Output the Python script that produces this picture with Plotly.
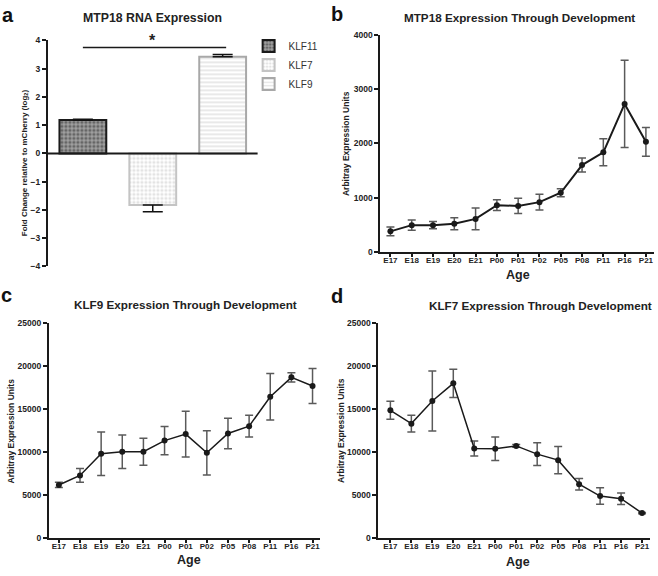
import plotly.graph_objects as go

W, H = 658, 576
def PX(x): return x / W
def PY(y): return 1 - y / H

FONT = "Liberation Sans, Arial, sans-serif"

# ---------- Panel a data ----------
bar_names = ["KLF11", "KLF7", "KLF9"]
bar_values = [1.18, -1.83, 3.42]
bar_err_plus = [0.03, 0.0, 0.08]
bar_err_minus = [0.0, 0.24, 0.0]
bar_ticks = [-4, -3, -2, -1, 0, 1, 2, 3, 4]

# ---------- Development panels data ----------
ages = ["E17", "E18", "E19", "E20", "E21", "P00", "P01", "P02", "P05", "P08", "P11", "P16", "P21"]

mtp18_vals = [375, 490, 490, 515, 605, 858, 845, 915, 1088, 1600, 1835, 2730, 2030]
mtp18_err = [80, 95, 65, 110, 200, 100, 140, 145, 75, 130, 250, 805, 265]

klf9_vals = [6150, 7250, 9780, 10000, 10010, 11300, 12060, 9880, 12130, 12980, 16400, 18650, 17650]
klf9_err = [300, 800, 2530, 1950, 1560, 1640, 2660, 2570, 1770, 1260, 2700, 530, 2030]

klf7_vals = [14850, 13300, 15950, 18000, 10400, 10380, 10700, 9740, 9040, 6230, 4850, 4540, 2860]
klf7_err = [1050, 975, 3500, 1660, 880, 1370, 170, 1330, 1600, 670, 970, 670, 80]

fig = go.Figure()

# ---------- Panel a bars ----------
bar_styles = [
    dict(color="#8a8a8a", line=dict(color="#1a1a1a", width=2),
         pattern=dict(shape=".", fgcolor="#2a2a2a", bgcolor="#a0a0a0", size=4, solidity=0.5)),
    dict(color="#ffffff", line=dict(color="#c4c4c4", width=2),
         pattern=dict(shape=".", fgcolor="#c8c8c8", bgcolor="#ffffff", size=4, solidity=0.5)),
    dict(color="#ffffff", line=dict(color="#a8a8a8", width=2),
         pattern=dict(shape="-", fgcolor="#b4b4b4", bgcolor="#ffffff", size=4, solidity=0.3)),
]
for i, name in enumerate(bar_names):
    fig.add_trace(go.Bar(
        x=[i], y=[bar_values[i]], name=name, width=0.67,
        marker=bar_styles[i],
        error_y=dict(type="data", symmetric=False, array=[bar_err_plus[i]],
                     arrayminus=[bar_err_minus[i]], color="#111111", thickness=1.5, width=10),
        xaxis="x", yaxis="y", showlegend=True,
    ))

# ---------- Line panels ----------
def line_trace(vals, err, xa, ya, lw):
    return go.Scatter(
        x=ages, y=vals, mode="lines+markers",
        line=dict(color="#1a1a1a", width=lw),
        marker=dict(color="#1a1a1a", size=6, symbol="circle"),
        error_y=dict(type="data", array=err, color="#5a5a5a", thickness=1.5, width=4),
        xaxis=xa, yaxis=ya, showlegend=False,
    )

fig.add_trace(line_trace(mtp18_vals, mtp18_err, "x2", "y2", 2))
fig.add_trace(line_trace(klf9_vals, klf9_err, "x3", "y3", 1.5))
fig.add_trace(line_trace(klf7_vals, klf7_err, "x4", "y4", 1.5))

xtickfont = dict(family=FONT, size=8, color="#222222", weight="bold")
ytickfont = dict(family=FONT, size=8.5, color="#222222", weight="bold")
def yax(domain, rng, dtick, anchor):
    return dict(domain=domain, range=rng, dtick=dtick, tickformat="d", showline=True,
                linecolor="#1a1a1a", linewidth=2, ticks="outside", ticklen=4, tickwidth=1.5,
                tickcolor="#1a1a1a", showgrid=False, zeroline=False, tickfont=ytickfont,
                anchor=anchor, fixedrange=True)
def xax_cat(domain, rng, anchor):
    return dict(domain=domain, range=rng, type="category", categoryorder="array",
                categoryarray=ages, showline=True, linecolor="#1a1a1a", linewidth=2,
                ticks="outside", ticklen=3, tickwidth=1.5, tickcolor="#1a1a1a",
                showgrid=False, zeroline=False, tickfont=xtickfont, ticklabelstandoff=-3,
                anchor=anchor, fixedrange=True)

layout = dict(
    width=W, height=H, margin=dict(l=0, r=0, t=0, b=0),
    paper_bgcolor="white", plot_bgcolor="white",
    font=dict(family=FONT, color="#222222"),
    barmode="overlay",
    xaxis=dict(domain=[PX(48), PX(258)], range=[-0.5, 2.5], showline=False,
               showticklabels=False, ticks="", showgrid=False, zeroline=False,
               anchor="y", fixedrange=True),
    yaxis=dict(yax([PY(266), PY(36)], [-4, 4], 1, "x"), tickvals=bar_ticks),
    xaxis2=xax_cat([PX(381), PX(655)], [-0.47, 12.38], "y2"),
    yaxis2=yax([PY(251), PY(30.7)], [0, 4000], 1000, "x2"),
    xaxis3=xax_cat([PX(49), PX(320)], [-0.47, 12.33], "y3"),
    yaxis3=yax([PY(542.3), PY(323.3)], [0, 25000], 5000, "x3"),
    xaxis4=xax_cat([PX(379), PX(651)], [-0.57, 12.38], "y4"),
    yaxis4=yax([PY(542), PY(324)], [0, 25000], 5000, "x4"),
    legend=dict(x=PX(249), y=PY(27), xanchor="left", yanchor="top",
                font=dict(family=FONT, size=10, color="#333333"),
                bgcolor="rgba(0,0,0,0)", tracegroupgap=0, itemclick=False),
    showlegend=True,
)
fig.update_layout(**layout)

# zero line across panel a
fig.add_shape(type="line", xref="x domain", yref="y", x0=0, x1=1, y0=0, y1=0,
              line=dict(color="#1a1a1a", width=2), layer="above")
# significance line
fig.add_shape(type="line", xref="x", yref="y", x0=0, x1=2.05, y0=3.75, y1=3.75,
              line=dict(color="#1a1a1a", width=1.5))

ann = []
def text(x, y, s, size, bold=True, angle=0, color="#222222", xref="paper", yref="paper"):
    ann.append(dict(x=x, y=y, xref=xref, yref=yref, text=s, showarrow=False,
                    textangle=angle, xanchor="center", yanchor="middle",
                    font=dict(family=FONT, size=size, color=color,
                              weight="bold" if bold else "normal")))

text(1, 4.0, "*", 16, xref="x", yref="y")

# panel letters
text(PX(8), PY(10), "a", 20, color="#111111")
text(PX(338), PY(9), "b", 20, color="#111111")
text(PX(7), PY(295), "c", 20, color="#111111")
text(PX(338), PY(296), "d", 20, color="#111111")

# titles
text(PX(153), PY(13), "MTP18 RNA Expression", 12.3)
text(PX(520), PY(13), "MTP18 Expression Through Development", 11.7)
text(PX(186), PY(305), "KLF9 Expression Through Development", 11.7)
text(PX(541), PY(306), "KLF7 Expression Through Development", 11.7)

# axis titles
text(PX(25), PY(160), "Fold Change relative to mCherry (log<sub>2</sub>)", 8, angle=-90)
text(PX(346), PY(141), "Arbitray Expression Units", 8.5, angle=-90)
text(PX(11), PY(433), "Arbitray Expression Units", 8.5, angle=-90)
text(PX(342), PY(433), "Arbitray Expression Units", 8.5, angle=-90)
text(PX(519), PY(275), "Age", 12.5)
text(PX(189), PY(565), "Age", 12.5)
text(PX(519), PY(567), "Age", 12.5)

fig.update_layout(annotations=ann)
fig.write_html("out.html", config={"displayModeBar": False})

# remove default page margin so the figure sits at the window's top-left corner
with open("out.html", "r", encoding="utf-8") as f:
    html = f.read()
html = html.replace("<head>", "<head><style>html,body{margin:0;padding:0;overflow:hidden;}</style>", 1)
with open("out.html", "w", encoding="utf-8") as f:
    f.write(html)
